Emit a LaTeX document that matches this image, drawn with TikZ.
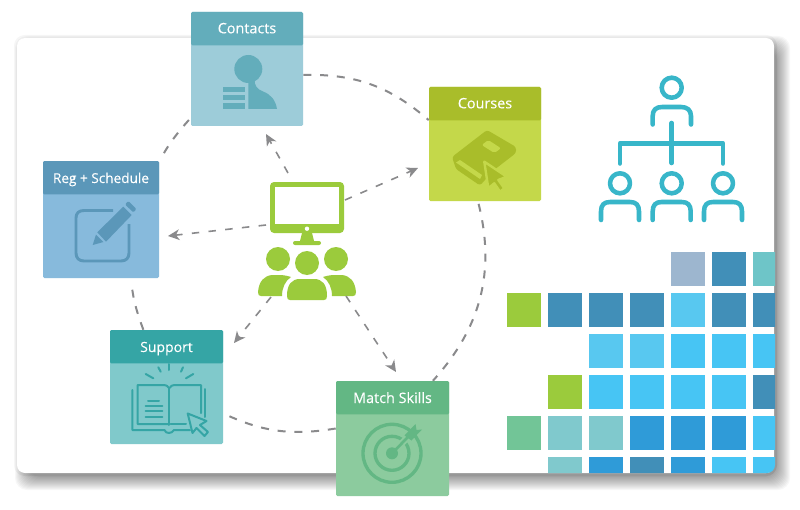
\documentclass[tikz,border=0pt]{standalone}
\usepackage{fontspec}
\setmainfont{Open Sans}[FakeBold=0.2]
\usetikzlibrary{arrows.meta,calc}
\definecolor{ringgrey}{HTML}{8A8A8C}
\definecolor{hubgreen}{HTML}{9BCB3C}
\definecolor{orgteal}{HTML}{38B6C9}
\definecolor{cHead}{HTML}{63ADBB}\definecolor{cBody}{HTML}{9DCCD9}
\definecolor{kHead}{HTML}{A9BD2A}\definecolor{kBody}{HTML}{C4D84A}
\definecolor{rHead}{HTML}{5B97B9}\definecolor{rBody}{HTML}{87BADC}
\definecolor{sHead}{HTML}{35A5A5}\definecolor{sBody}{HTML}{80C9CB}
\definecolor{mHead}{HTML}{63B784}\definecolor{mBody}{HTML}{8CCB9E}
\definecolor{gA}{HTML}{9DB6CF}\definecolor{gB}{HTML}{418FB8}\definecolor{gC}{HTML}{6EC5C8}
\definecolor{gD}{HTML}{9BCB3C}\definecolor{gE}{HTML}{58C8F0}\definecolor{gF}{HTML}{47C5F4}
\definecolor{gG}{HTML}{72C597}\definecolor{gH}{HTML}{80C9CD}\definecolor{gI}{HTML}{2F9BD8}
\tikzset{
  ring/.style={draw=ringgrey,line width=1.5pt,dash pattern=on 6pt off 6.6pt},
  spoke/.style={draw=ringgrey,line width=1.2pt,dash pattern=on 5.6pt off 7pt,
    -{Stealth[length=8.5pt,width=8pt,inset=2.5pt]}},
  card/.style={rectangle,rounded corners=1pt,inner sep=0pt,minimum width=84.75pt,minimum height=85.5pt},
  cardhead/.style={rectangle,rounded corners=1pt,inner sep=0pt,anchor=north,minimum width=84.75pt,
    minimum height=25pt,text=white,text height=8.5pt,text depth=1.5pt,font=\fontsize{10.8pt}{12pt}\selectfont},
  lowtext/.style={text height=9.2pt,text depth=1.2pt},
  orgline/.style={draw=orgteal,line width=3.4pt,line cap=round,line join=round},
}
\begin{document}
\begin{tikzpicture}[x=0.75pt,y=-0.75pt]
\useasboundingbox (0,0) rectangle (800,510);
% panel shadow
\fill[white!96.5!black,rounded corners=8pt] (14,35) rectangle (777,476);
\foreach \d in {0,1,...,13}{
  \fill[black,opacity=0.03,rounded corners=9pt]
    (28-\d,49-\d) rectangle (777+\d,477+\d);
}
\fill[white,rounded corners=6pt] (17,38) rectangle (774,473);
% tile grid
\begin{scope}
\clip[rounded corners=6pt] (17,38) rectangle (775,473);
\foreach \col/\row/\c in {
  5/1/gA,6/1/gB,7/1/gC,
  1/2/gD,2/2/gB,3/2/gB,4/2/gB,5/2/gE,6/2/gB,7/2/gB,
  3/3/gE,4/3/gE,5/3/gF,6/3/gF,7/3/gF,
  2/4/gD,3/4/gF,4/4/gF,5/4/gF,6/4/gF,7/4/gB,
  1/5/gG,2/5/gH,3/5/gH,4/5/gI,5/5/gI,6/5/gI,7/5/gF,
  2/6/gH,3/6/gI,4/6/gB,5/6/gI,6/6/gF,7/6/gF}{
  \fill[\c] ({506.7+41.1*(\col-1)},{251.7+41*(\row-1)}) rectangle +(34,34);
}
\end{scope}
% cards
\node[card,fill=cBody,minimum width=84pt] (contacts) at (247,69) {};
\node[cardhead,fill=cHead,minimum width=84pt] at (contacts.north) {Contacts};
\node[card,fill=kBody,minimum width=84pt] (courses) at (485,144) {};
\node[cardhead,fill=kHead,minimum width=84pt] at (courses.north) {Courses};
\node[card,fill=rBody,minimum width=87pt,minimum height=87.75pt] (reg) at (101,219.5) {};
\node[cardhead,fill=rHead,minimum width=87pt,lowtext,font=\fontsize{10.2pt}{12pt}\selectfont] at (reg.north) {Reg + Schedule};
\node[card,fill=sBody] (support) at (166.5,387) {};
\node[cardhead,fill=sHead,lowtext,font=\fontsize{10.5pt}{12pt}\selectfont] at (support.north) {Support};
\node[card,fill=mBody,minimum height=86.25pt] (match) at (392.5,438.5) {};
\node[cardhead,fill=mHead,lowtext] at (match.north) {Match Skills};
% ring connectors
\draw[ring] (contacts.-6) to[bend left=21] (courses.157);
\draw[ring,shorten <=2pt] (courses.263) to[bend left=28] (match.55);
\draw[ring,shorten >=2pt] (match.170) to[bend left=17] (support.-25);
\draw[ring,shorten >=6pt] (support.112) to[bend left=7] (reg.-63);
\draw[ring,shorten <=7pt] (reg.45) to[bend left=6] (contacts.221);
% hub
\node[rectangle,fill=hubgreen,rounded corners=3pt,inner sep=0pt,minimum width=55.5pt,minimum height=38.25pt] (monitor) at (307,207.5) {};
\fill[white] (275,187) rectangle (339,224);
\fill[white] (307,228.7) circle[radius=2.2];
\fill[hubgreen] (302,233) -- (312,233) -- (314,241) -- (300,241) -- cycle;
\fill[hubgreen,rounded corners=1.5pt] (293,241) rectangle (321,245);
\fill[hubgreen] (278,259) circle[radius=12];
\fill[hubgreen] (336,259) circle[radius=12];
\fill[hubgreen] (307,263) circle[radius=12];
\fill[hubgreen] (287,296) .. controls (287,284) and (292,279) .. (300,279) -- (314,279)
  .. controls (322,279) and (327,284) .. (327,296)
  .. controls (327,299) and (326,300) .. (324,300) -- (290,300)
  .. controls (288,300) and (287,299) .. (287,296) -- cycle;
\fill[hubgreen] (258,292) .. controls (259,281) and (264,276) .. (272,275) -- (279,275)
  .. controls (284,275) and (288,276) .. (291,277)
  .. controls (285,281) and (282,288) .. (282,296) -- (261,296)
  .. controls (259,296) and (258,295) .. (258,292) -- cycle;
\fill[hubgreen] (356,292) .. controls (355,281) and (350,276) .. (342,275) -- (335,275)
  .. controls (330,275) and (326,276) .. (323,277)
  .. controls (329,281) and (332,288) .. (332,296) -- (353,296)
  .. controls (355,296) and (356,295) .. (356,292) -- cycle;
% spokes
\coordinate (hubN) at (288,173);
\coordinate (hubE) at (345,200);
\coordinate (hubW) at (266,225);
\coordinate (hubSW) at (271,297);
\coordinate (hubSE) at (346,296);
\coordinate (tipN) at (266,134);
\coordinate (tipE) at (418,168);
\coordinate (tipW) at (168,236);
\coordinate (tipSW) at (234,343);
\coordinate (tipSE) at (396,372);
\draw[spoke] (hubN) -- (tipN);
\draw[spoke] (hubE) -- (tipE);
\draw[spoke] (hubW) -- (tipW);
\draw[spoke] (hubSW) -- (tipSW);
\draw[spoke] (hubSE) -- (tipSE);
% contacts icon
\fill[cHead] (248.3,69) circle[radius=14];
\fill[cHead] (248.3,82) -- (254.5,79) .. controls (254.5,86) and (257,89) .. (263,91.5)
  .. controls (271,94.5) and (275.5,100) .. (277,109) -- (248.3,109) -- cycle;
\fill[cHead] (222.7,86.7) rectangle (245,91.7);
\fill[cHead] (222.7,95) rectangle (245,100);
\fill[cHead] (222.7,103.5) rectangle (245,109);
% reg icon
\draw[rHead,line width=2.2pt,line cap=butt] (113,210.5) -- (84,210.5)
  .. controls (79,210.5) and (76,213) .. (76,218) -- (76,253)
  .. controls (76,258) and (79,261) .. (84,261) -- (121,261)
  .. controls (126,261) and (129,258) .. (129,253) -- (129,224);
\fill[rHead] (97.3,232.3) -- (123.3,206.7) -- (131.7,215) -- (106,241.7) -- cycle;
\fill[rHead,rounded corners=1pt] (125,204.3) -- (128.3,201) -- (136.5,209) -- (133.3,212.5) -- cycle;
\fill[rHead] (92.7,245) -- (96,234.5) -- (103.5,242) -- cycle;
% courses icon
\fill[kHead,rounded corners=2pt] (452,157) -- (487,130) -- (516,147) -- (516,153) -- (494,170) -- (480,185.5) -- (456,169) -- cycle;
\fill[kBody] (456,162.5) -- (480,179) -- (482,175) -- (460,160) -- cycle;
\fill[kBody,rounded corners=1.5pt] (481.7,145) -- (488.3,140) -- (501,148.3) -- (494.3,153) -- cycle;
\draw[kBody,line width=1.8pt,fill=kHead,line join=round] (484.3,161.7) -- (506.7,176.7) -- (498.3,180) -- (504.3,188.3) -- (500,191.7) -- (494.3,183.3) -- (488.3,188.3) -- cycle;
% support icon
\begin{scope}[draw=sHead,line width=1.5pt,line cap=round,line join=round]
\draw (169.3,364) -- (169.3,370);
\draw (158.3,367.3) -- (160.7,371.7);
\draw (181,371.7) -- (183,367.3);
\draw (145.7,374) -- (153.3,378.3);
\draw (186,378.3) -- (193.3,374);
\draw (169.3,388) -- (169.3,425);
\draw (169,388) .. controls (168,386) and (166,385) .. (164,385) -- (137.7,385) -- (137.7,424) -- (168,424);
\draw (169.5,388) .. controls (170.5,386) and (172.5,385) .. (174.5,385) -- (201,385) -- (201,413);
\draw (170.5,424) -- (186,424);
\draw (132.3,390) -- (132.3,430) -- (164.5,430) .. controls (165.5,434) and (172,434) .. (174,430) -- (190,430);
\draw (205,389) -- (205,417);
\draw (148,401) -- (159,401);
\draw (145.7,406) -- (162.3,406);
\draw (145.7,411) -- (162.3,411);
\draw (145.7,417) -- (162.3,417);
\draw[fill=sBody] (187.7,413.5) -- (206.5,421) -- (200,425) -- (208,432) -- (204.5,436) -- (196.5,428) -- (192.5,433) -- cycle;
\end{scope}
% match icon
\draw[mHead,line width=2.5pt] (392,453.3) circle[radius=29];
\draw[mHead,line width=2.5pt] (392,453.3) circle[radius=17];
\fill[mHead] (392,453.3) circle[radius=6];
\draw[mBody,line width=5pt] (398,447) -- (417,428);
\draw[mHead,line width=2pt] (392,453.3) -- (408,437);
\fill[mHead] (404.5,435.5) -- (415.5,424) -- (416.5,430) -- (422,429.5) -- (411.5,440.5) -- cycle;
% org chart
\draw[orgline] (671.7,87.7) circle[radius=10];
\draw[orgline] (652.7,124.5) -- (652.7,116) .. controls (652.7,110) and (656,107) .. (662,107) -- (681,107) .. controls (687,107) and (691,110) .. (691,116) -- (691,124.5);
\draw[orgline] (671.7,123) -- (671.7,163);
\draw[orgline] (620,163.5) -- (620,143.3) -- (723,143.3) -- (723,163.5);
\foreach \cx in {620,671.7,723}{
  \draw[orgline] (\cx,183.3) circle[radius=10];
  \draw[orgline] (\cx-19,220) -- (\cx-19,211.5) .. controls (\cx-19,205) and (\cx-16,202) .. (\cx-10,202) -- (\cx+10,202) .. controls (\cx+16,202) and (\cx+19,205) .. (\cx+19,211.5) -- (\cx+19,220);
}
\end{tikzpicture}
\end{document}
